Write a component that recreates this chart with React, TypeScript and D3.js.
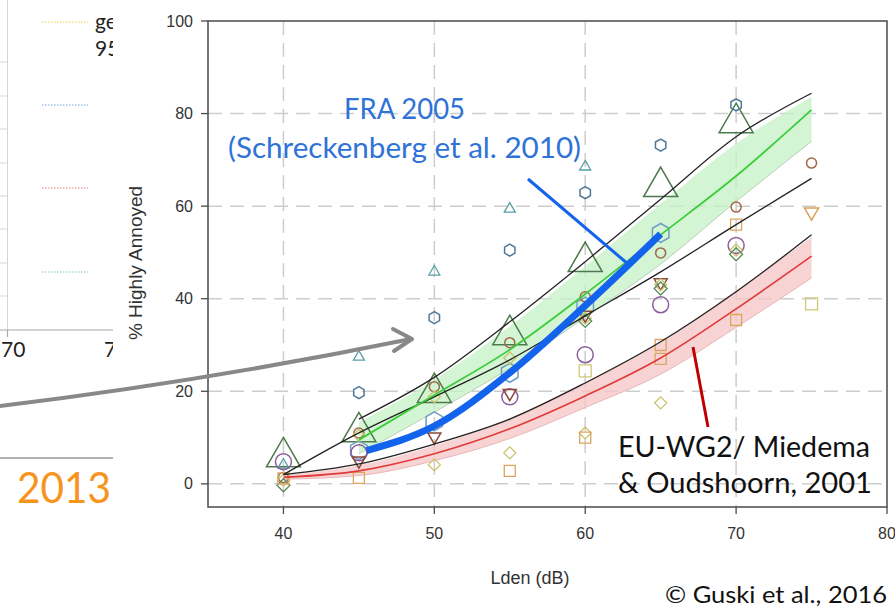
import React from 'react';
import * as d3 from 'd3';

const W = 895;
const H = 613;

const xTicks = [40, 50, 60, 70, 80];
const yTicks = [0, 20, 40, 60, 80, 100];
const gridX = [40, 50, 60, 70];
const gridY = [0, 20, 40, 60, 80];

// Curves (Lden -> %HA)
const levels = [40, 45, 50, 55, 60, 65, 70, 75];
const redCurve = [1.4, 2.8, 6.5, 11.9, 19, 27.2, 37.8, 49.2];
const redUpper = [1.9, 4.0, 8.3, 14.2, 22, 30.7, 41.8, 53.3];
const redLower = [1.0, 1.8, 5.0, 9.8, 16.5, 23.7, 33.8, 44.5];
const lowerBlack = [2, 4.3, 8.6, 14, 21.8, 30.7, 41.5, 53.8];
const midBlack = [2, 11, 18.8, 26.8, 36.3, 45.8, 56, 66];

const greenLevels = [45, 50, 55, 60, 65, 70, 75];
const greenCurve = [9.5, 19.2, 29, 41, 53.8, 66.5, 80.8];
const greenUpper = [13.3, 22.5, 34, 47, 60.5, 73.5, 83.6];
const greenLower = [6.5, 15.5, 25, 36, 47.5, 61, 74];
const upperBlack = [14, 23, 35, 48, 61.5, 75, 84.4];

const fraLevels = [45.5, 50, 55, 60, 65];
const fraCurve = [7.2, 12.5, 24, 38.5, 54];

// Study points [Lden, %HA]
const bigGreenTriangles = [[40, 5.8], [45, 11.2], [50, 19.7], [55, 32.2], [60, 48], [65, 64.2], [70, 78]];
const tealTriangles = [[40, 4.1], [45, 27.4], [50, 45.8], [55, 59.4], [60, 68.5]];
const smallHexagons = [[45, 19.7], [50, 35.9], [55, 50.5], [60, 62.9], [65, 73.2], [70, 81.9]];
const largeHexagons = [[45, 7.3], [50, 13.5], [55, 24], [60, 38.3], [65, 54.2]];
const purpleCircles = [[40, 4.8], [45, 6.7], [55, 18.8], [60, 27.9], [65, 38.7], [70, 51.5]];
const brownCircles = [[40, 1.4], [45, 11], [50, 21], [55, 30.5], [60, 40.4], [65, 49.9], [70, 59.8], [75, 69.3]];
const brownDownTriangles = [[45, 5], [50, 10.2], [55, 19.6], [60, 36.5], [65, 43.5]];
const orangeDownTriangles = [[75, 58.7]];
const yellowDiamonds = [[40, 0.8], [45, 10.5], [50, 4.1], [50, 18.8], [55, 6.7], [55, 27.2], [60, 11], [60, 35.8], [65, 17.5], [65, 43], [70, 50.5]];
const greenDiamonds = [[40, -0.3], [60, 35.2], [65, 42.2], [70, 49.6]];
const orangeSquares = [[40, 1.2], [45, 1.3], [55, 2.8], [60, 10], [65, 27], [65, 30], [70, 35.4], [70, 56]];
const yellowSquares = [[60, 24.4], [75, 38.9]];

// Left (cropped) panel
const leftGridY = [62, 96, 129, 163, 196, 229, 263, 296];

const x = d3.scaleLinear().domain([35, 80]).range([208, 887]);
const y = d3.scaleLinear().domain([-5, 100]).range([507, 21]);

function zip(xs: number[], ys: number[]): [number, number][] {
  return xs.map((v, i) => [v, ys[i]]);
}

const line = d3
  .line<[number, number]>()
  .x((d) => x(d[0]))
  .y((d) => y(d[1]))
  .curve(d3.curveMonotoneX);

function band(xs: number[], lo: number[], hi: number[]) {
  return d3
    .area<number>()
    .x((d) => x(d))
    .y0((_, i) => y(lo[i]))
    .y1((_, i) => y(hi[i]))
    .curve(d3.curveMonotoneX)(xs) as string;
}

function shape(kind: string, s: number): string {
  if (kind === 'tri' || kind === 'itri') {
    const h = s * 0.866;
    const sg = kind === 'tri' ? 1 : -1;
    return `M0,${(-2 * h * sg) / 3}L${s / 2},${(h * sg) / 3}L${-s / 2},${(h * sg) / 3}Z`;
  }
  if (kind === 'hex') {
    const r = s / 2;
    const pts = d3.range(6).map((k) => {
      const a = ((-90 + 60 * k) * Math.PI) / 180;
      return `${r * Math.cos(a)},${r * Math.sin(a)}`;
    });
    return 'M' + pts.join('L') + 'Z';
  }
  if (kind === 'dia') {
    const r = s / 2;
    return `M0,${-r}L${r},0L0,${r}L${-r},0Z`;
  }
  if (kind === 'sq') {
    const r = s / 2;
    return `M${-r},${-r}H${r}V${r}H${-r}Z`;
  }
  const r = s / 2;
  return `M${r},0A${r},${r} 0 1 1 ${-r},0A${r},${r} 0 1 1 ${r},0Z`;
}

function Markers({ data, kind, size, color, sw = 1.3 }: { data: number[][]; kind: string; size: number; color: string; sw?: number }) {
  const p = shape(kind, size);
  return (
    <g>
      {data.map((d, i) => (
        <path key={i} d={p} transform={`translate(${x(d[0])},${y(d[1])})`} fill="none" stroke={color} strokeWidth={sw} />
      ))}
    </g>
  );
}

const axisFont = "'Liberation Sans', Arial, sans-serif";
const annFont = "Lato, 'Open Sans', sans-serif";

export default function App() {
  const x0 = x.range()[0];
  const x1 = x.range()[1];
  const yTop = y.range()[1];
  const yBot = y.range()[0];
  return (
    <svg width={W} height={H} style={{ position: 'absolute', left: 0, top: 0, background: '#fff' }}>
      {/* left cropped panel */}
      <g>
        <line x1={7.5} x2={7.5} y1={0} y2={330} stroke="#d6d6d6" strokeWidth={1} />
        {leftGridY.map((v) => (
          <line key={v} x1={0} x2={7.5} y1={v} y2={v} stroke="#d6d6d6" strokeWidth={1} />
        ))}
        <line x1={0} x2={113} y1={330} y2={330} stroke="#a8a8a8" strokeWidth={1.2} />
        <line x1={7.5} x2={7.5} y1={330} y2={337} stroke="#a8a8a8" strokeWidth={1.2} />
        <text x={1} y={357} fontFamily={annFont} fontSize={21} fill="#222">70</text>
        <text x={104} y={357} fontFamily={annFont} fontSize={21} fill="#222">7</text>
        <line x1={42} x2={88} y1={22} y2={22} stroke="#f2cf4a" strokeWidth={1} strokeDasharray="1.5 1.5" />
        <line x1={42} x2={88} y1={105} y2={105} stroke="#6fa0d8" strokeWidth={1} strokeDasharray="1.5 1.5" />
        <line x1={42} x2={88} y1={188} y2={188} stroke="#e27a7a" strokeWidth={1} strokeDasharray="1.5 1.5" />
        <line x1={42} x2={88} y1={272} y2={272} stroke="#78cfa0" strokeWidth={1} strokeDasharray="1.5 1.5" />
        <text x={95} y={29} fontFamily={annFont} fontSize={21} fill="#222">ge</text>
        <text x={95} y={56} fontFamily={annFont} fontSize={21} fill="#222">95</text>
        <line x1={0} x2={113} y1={458} y2={458} stroke="#9a9a9a" strokeWidth={1.5} />
        <text x={17} y={503} fontFamily={annFont} fontSize={42} fill="#f7941d" textLength={94} lengthAdjust="spacingAndGlyphs">2013</text>
      </g>

      {/* right chart background */}
      <rect x={113} y={0} width={W - 113} height={H} fill="#fff" />

      {/* grid */}
      <g stroke="#cdcdcd" strokeWidth={1.5} strokeDasharray="14 8">
        {gridY.map((v) => (
          <line key={'gy' + v} x1={x0} x2={x1} y1={y(v)} y2={y(v)} />
        ))}
        {gridX.map((v) => (
          <line key={'gx' + v} x1={x(v)} x2={x(v)} y1={yTop} y2={yBot} />
        ))}
      </g>

      {/* bands */}
      <path d={band(levels, redLower, redUpper)} fill="#f6c4c4" fillOpacity={0.75} stroke="none" />
      <path d={line(zip(levels, redLower)) as string} fill="none" stroke="#e8b8b8" strokeWidth={1} />
      <path d={band(greenLevels, greenLower, greenUpper)} fill="#c6f2c6" fillOpacity={0.75} stroke="none" />
      <path d={line(zip(greenLevels, greenLower)) as string} fill="none" stroke="#b9cfb9" strokeWidth={1} />

      {/* study markers */}
      <Markers data={bigGreenTriangles} kind="tri" size={34} color="#4c7a4c" sw={1.5} />
      <Markers data={tealTriangles} kind="tri" size={11} color="#5a9ea8" />
      <Markers data={smallHexagons} kind="hex" size={12} color="#4f7898" sw={1.5} />
      <Markers data={largeHexagons} kind="hex" size={19} color="#6e9ec2" sw={1.5} />
      <Markers data={purpleCircles} kind="circ" size={16} color="#8c5c9c" sw={1.5} />
      <Markers data={brownCircles} kind="circ" size={10} color="#a0684a" sw={1.5} />
      <Markers data={brownDownTriangles} kind="itri" size={13} color="#8a4a3a" sw={1.5} />
      <Markers data={orangeDownTriangles} kind="itri" size={14} color="#d9a05a" sw={1.5} />
      <Markers data={yellowDiamonds} kind="dia" size={12} color="#c9c46a" sw={1.3} />
      <Markers data={greenDiamonds} kind="dia" size={13} color="#5a8a5a" sw={1.3} />
      <Markers data={orangeSquares} kind="sq" size={11} color="#dba460" sw={1.3} />
      <Markers data={yellowSquares} kind="sq" size={12} color="#cfc87a" sw={1.3} />

      {/* curves */}
      <path d={line(zip(levels, redCurve)) as string} fill="none" stroke="#e03a3a" strokeWidth={1.6} />
      <path d={line(zip(levels, lowerBlack)) as string} fill="none" stroke="#222" strokeWidth={1.3} />
      <path d={line(zip(levels, midBlack)) as string} fill="none" stroke="#222" strokeWidth={1.3} />
      <path d={line(zip(greenLevels, upperBlack)) as string} fill="none" stroke="#222" strokeWidth={1.3} />
      <path d={line(zip(greenLevels, greenCurve)) as string} fill="none" stroke="#3ccc3c" strokeWidth={1.8} />
      <path d={line(zip(fraLevels, fraCurve)) as string} fill="none" stroke="#1463ec" strokeWidth={7} strokeLinejoin="round" />

      {/* frame */}
      <rect x={x0} y={yTop} width={x1 - x0} height={yBot - yTop} fill="none" stroke="#4a4a4a" strokeWidth={1.5} />
      <g fontFamily={axisFont} fontSize={16} fill="#333">
        {yTicks.map((v) => (
          <g key={'yt' + v}>
            <line x1={x0 - 7} x2={x0} y1={y(v)} y2={y(v)} stroke="#4a4a4a" strokeWidth={1.3} />
            <text x={x0 - 15} y={y(v)} dy="0.35em" textAnchor="end">{v}</text>
          </g>
        ))}
        {xTicks.map((v) => (
          <g key={'xt' + v}>
            <line x1={x(v)} x2={x(v)} y1={yBot} y2={yBot + 7} stroke="#4a4a4a" strokeWidth={1.3} />
            <text x={x(v)} y={yBot + 26} dy="0.35em" textAnchor="middle">{v}</text>
          </g>
        ))}
      </g>
      <text x={530} y={584} fontFamily={axisFont} fontSize={18} fill="#333" textAnchor="middle">Lden (dB)</text>
      <text transform="translate(142,263) rotate(-90)" fontFamily={axisFont} fontSize={19} fill="#333" textAnchor="middle">% Highly Annoyed</text>

      {/* annotations */}
      <line x1={528} y1={179} x2={628} y2={264} stroke="#1463ec" strokeWidth={3} />
      <text x={344} y={119} fontFamily={annFont} fontSize={28} fill="#2f72d8" textLength={121} lengthAdjust="spacingAndGlyphs">FRA 2005</text>
      <text x={228} y={158} fontFamily={annFont} fontSize={28} fill="#2f72d8" textLength={353} lengthAdjust="spacingAndGlyphs">(Schreckenberg et al. 2010)</text>
      <line x1={693} y1={347} x2={708} y2={427} stroke="#c00000" strokeWidth={3} />
      <text x={618} y={457} fontFamily={annFont} fontSize={28} fill="#111" textLength={252} lengthAdjust="spacingAndGlyphs">EU-WG2/ Miedema</text>
      <text x={618} y={493} fontFamily={annFont} fontSize={28} fill="#111" textLength={254} lengthAdjust="spacingAndGlyphs">&amp; Oudshoorn, 2001</text>
      <text x={665} y={603} fontFamily={annFont} fontSize={24} fill="#111" textLength={222} lengthAdjust="spacingAndGlyphs">© Guski et al., 2016</text>

      {/* grey arrow */}
      <path d="M0,406 Q200,382 411,339" fill="none" stroke="#888" strokeWidth={4} strokeLinecap="round" />
      <path d="M393,329 L412,339 L394,351" fill="none" stroke="#888" strokeWidth={4} strokeLinecap="round" strokeLinejoin="round" />
    </svg>
  );
}
